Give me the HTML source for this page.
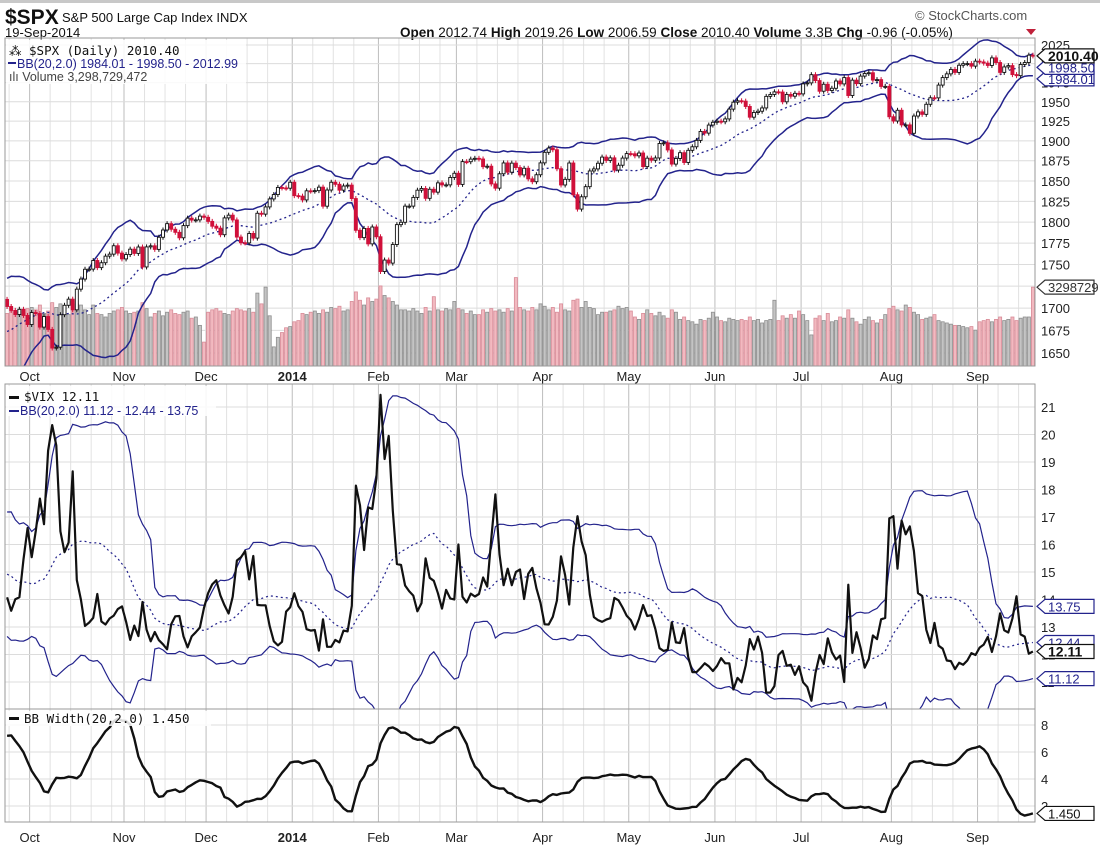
<!DOCTYPE html>
<html><head><meta charset="utf-8"><style>
body{margin:0;background:#fff;width:1100px;height:850px;overflow:hidden}
svg{display:block;font-family:"Liberation Sans",sans-serif}
</style></head><body>
<svg id="chart" width="1100" height="850" xmlns="http://www.w3.org/2000/svg">
<rect x="0" y="0" width="1100" height="3" fill="#c8c8c8"/>
<text x="5" y="24" font-size="21" font-weight="bold" fill="#111">$SPX</text>
<text x="62" y="22" font-size="13" fill="#111">S&amp;P 500 Large Cap Index  INDX</text>
<text x="5" y="37" font-size="13" fill="#111">19-Sep-2014</text>
<text x="915" y="20" font-size="13" fill="#555">© StockCharts.com</text>
<text x="400" y="37" font-size="13.5" fill="#111"><tspan font-weight="bold">Open</tspan> 2012.74 <tspan font-weight="bold">High</tspan> 2019.26 <tspan font-weight="bold">Low</tspan> 2006.59 <tspan font-weight="bold">Close</tspan> 2010.40 <tspan font-weight="bold">Volume</tspan> 3.3B <tspan font-weight="bold">Chg</tspan> -0.96 (-0.05%)</text>
<polygon points="1026,29 1036,29 1031,35" fill="#c0203a"/>
<g id="g"></g>
</svg>
<script>
const lookbackSpx=[1663.5,1656.8,1630.5,1634.96,1638.2,1632.97,1639.8,1653.1,1655.1,1655.2,1671.7,1683.99,1689.1,1683.4,1687.99,1697.6,1704.8,1725.5,1722.3,1709.9];
const spxClose=[1701.84,1697.42,1692.77,1698.67,1691.75,1681.55,
1695.00,1693.87,1678.66,1690.50,1676.12,1655.45,1656.40,1692.56,1703.20,1710.14,1698.06,1721.54,1733.15,1744.50,1744.66,1754.67,1746.38,1752.07,1759.77,1762.11,1771.95,1763.31,1756.54,
1761.64,1767.93,1762.97,1770.49,1747.15,1770.61,1771.89,1767.69,1782.00,1790.62,1798.18,1791.53,1787.87,1781.37,1795.85,1804.76,1802.48,1802.75,1807.23,1805.81,
1800.90,1795.15,1792.81,1785.03,1805.09,1808.37,1802.62,1782.22,1775.50,1775.32,1786.54,1781.00,1810.65,1809.60,1818.32,1827.99,1833.32,1842.02,1841.40,1841.07,1848.36,
1831.98,1831.37,1826.77,1837.88,1837.49,1838.13,1842.37,1819.20,1838.88,1848.38,1845.89,1838.70,1843.80,1844.86,1828.46,1790.29,1781.56,1792.50,1774.20,1794.19,1782.59,
1741.89,1755.20,1751.64,1773.43,1797.02,1799.84,1819.26,1819.26,1829.83,1838.63,1840.76,1828.75,1839.78,1836.25,1847.61,1845.12,1845.16,1854.29,1859.45,
1845.73,1873.91,1873.81,1877.03,1878.04,1877.17,1867.63,1868.20,1846.34,1841.13,1858.83,1872.25,1860.77,1872.01,1866.52,1857.44,1865.62,1852.56,1849.04,1857.62,1872.34,
1885.52,1890.90,1888.77,1865.09,1845.04,1851.96,1872.18,1833.08,1815.69,1830.61,1842.98,1862.31,1864.85,1871.89,1879.55,1875.39,1878.61,1863.40,1869.43,1878.33,1883.95,
1883.68,1881.14,1884.66,1867.72,1878.21,1875.63,1878.48,1896.65,1897.45,1888.53,1870.85,1877.86,1885.08,1872.83,1888.03,1892.49,1900.53,1911.91,1909.78,1920.03,1923.57,
1924.97,1924.24,1927.88,1940.46,1949.44,1951.27,1950.79,1943.89,1930.11,1936.16,1937.78,1941.99,1956.98,1959.48,1962.87,1962.61,1949.98,1959.53,1957.22,1960.96,1960.23,
1973.32,1974.62,1985.44,1977.65,1963.71,1972.83,1964.68,1967.57,1977.10,1973.28,1981.57,1958.12,1978.22,1973.63,1983.53,1987.01,1987.98,1978.34,1978.91,1969.95,1970.07,1930.67,
1925.15,1938.99,1920.21,1920.24,1909.57,1931.59,1936.92,1933.75,1946.72,1955.18,1955.06,1971.74,1981.60,1986.51,1992.37,1988.40,1997.92,2000.02,2000.12,1996.74,2003.37,
2002.28,2000.72,1997.65,2007.71,2001.54,1988.44,1995.69,1997.45,1985.54,1984.13,1998.98,2001.57,2011.36,2010.40];
const volumeM=[2200,2300,2250,2150,2250,2400,
2450,2350,2550,2200,2300,2650,2450,2600,2450,2150,2700,2600,2550,2350,2150,2550,2200,2150,2050,2200,2300,2350,2450,
2300,2200,2250,2300,2650,2400,2050,2200,2300,2100,2250,2350,2200,2150,2250,2300,2000,2050,1700,1000,
2250,2350,2400,2300,2200,2150,2300,2400,2350,2300,2400,2250,3050,2600,3300,2100,800,1200,1400,1600,1650,
1850,1900,2200,2150,2250,2300,2200,2350,2250,2450,2400,2500,2300,2350,2700,3100,2750,2550,2850,2700,2800,
3350,2950,2850,2700,2550,2350,2350,2300,2400,2300,2200,2450,2300,2900,2350,2300,2400,2350,2700,
2400,2350,2200,2300,2150,2150,2350,2250,2400,2300,2350,2250,2400,2300,3700,2450,2350,2300,2450,2350,2600,
2500,2350,2450,2250,2600,2350,2300,2750,2800,2450,2700,2450,2400,2150,2250,2250,2300,2350,2500,2400,2450,
2300,2050,1950,2200,2350,2200,2100,2250,2100,2000,2350,2250,1950,2050,1900,1850,1750,1950,1900,2000,2250,
2050,1900,1850,2000,1950,1900,1950,1900,2050,1900,1950,1800,1900,1950,2750,1900,2100,2000,2150,2000,2300,
2150,1900,1300,2000,2100,1900,2200,1850,1900,2050,2000,2350,2000,1850,1750,1950,2050,1900,1800,1950,2150,2400,
2500,2350,2300,2550,2450,2250,2150,1950,2000,2050,2150,1900,1850,1800,1750,1700,1700,1650,1600,1650,1500,
1850,1900,1950,1850,1950,2050,1900,1950,2050,1900,2000,2050,2050,3298.729];
const lookbackVix=[13.98,14.99,16.77,15.94,15.06,17.01,16.61,15.88,15.63,15.85,15.00,14.53,13.82,14.29,14.16,14.38,14.53,13.59,13.16,13.12];
const vixClose=[14.08,13.59,14.01,14.08,15.46,16.60,
15.54,16.50,17.67,16.74,19.41,20.34,19.60,16.48,15.72,16.07,18.66,14.71,14.00,13.04,13.16,13.33,14.20,13.20,13.09,13.31,13.41,13.65,13.75,
13.19,12.53,13.05,12.67,13.91,12.90,12.48,12.82,12.52,12.37,12.19,13.10,13.39,13.40,12.66,12.26,12.66,12.81,12.98,13.70,
14.23,14.55,14.70,14.15,13.79,13.49,14.10,15.42,15.54,15.76,14.73,15.58,13.80,13.79,13.79,13.03,12.48,12.33,12.46,13.56,13.72,
14.23,13.76,13.55,12.92,12.87,12.89,12.14,13.28,12.28,12.28,12.53,12.44,12.87,12.84,13.77,18.14,17.42,15.80,17.35,17.29,18.41,
21.44,19.11,19.95,17.23,15.29,15.26,14.51,14.30,14.14,13.57,13.87,15.50,14.79,14.68,14.23,13.67,14.35,14.04,14.00,
16.00,14.10,13.89,14.21,14.11,14.20,14.80,14.47,16.22,17.82,15.64,14.52,15.12,14.52,15.00,15.09,14.02,14.93,15.15,14.41,13.88,
13.10,13.09,13.37,13.96,15.57,14.89,13.82,15.89,17.03,16.11,15.61,14.18,13.36,13.25,13.19,13.27,13.32,14.06,13.97,13.71,13.41,
13.25,12.91,13.29,13.80,13.40,13.43,12.92,12.23,12.13,12.17,13.17,12.44,12.42,12.96,11.91,11.36,11.36,11.51,11.68,11.57,11.40,
11.58,11.87,11.68,11.68,10.73,11.15,10.99,11.60,12.56,12.18,12.65,12.06,10.61,10.62,10.85,11.98,12.13,11.59,11.63,11.26,11.57,
10.99,10.82,10.32,11.33,11.98,11.65,12.59,12.08,11.82,11.96,11.00,14.54,12.06,12.81,12.24,11.52,11.84,12.69,12.56,13.28,13.33,16.95,
17.03,15.12,16.87,16.37,16.66,15.77,14.23,14.13,12.90,12.42,13.15,12.32,12.21,11.78,11.76,11.47,11.70,11.63,11.78,12.05,11.98,
12.25,12.36,12.64,12.09,12.66,13.50,12.88,12.80,13.31,14.12,12.73,12.65,12.03,12.11];
const monthLabels=["Oct","Nov","Dec","2014","Feb","Mar","Apr","May","Jun","Jul","Aug","Sep"];
const monthStartIdx=[6,29,49,70,91,110,131,152,173,194,216,237];
const spxTicks=[2025,2000,1975,1950,1925,1900,1875,1850,1825,1800,1775,1750,1725,1700,1675,1650];
const vixTicks=[21,20,19,18,17,16,15,14,13,12,11];
const bbwTicks=[8,6,4,2];

const NS="http://www.w3.org/2000/svg";
const G=document.getElementById('g');
function el(tag,attrs,parent){const e=document.createElementNS(NS,tag);for(const k in attrs)e.setAttribute(k,attrs[k]);(parent||G).appendChild(e);return e;}
const L=5,R=1035,PITCH=(R-L)/spxClose.length;
const P1={t:38,b:366},P2={t:384,b:709},P3={t:709,b:822};
const xg=i=>L+i*PITCH;
const xc=i=>L+i*PITCH+PITCH/2;
const ySpx=p=>45+(Math.log(2025)-Math.log(p))*1504;
const yVix=v=>407+(21-v)*27.5;
const yBbw=v=>806-(v-2)*13.5;
const yVol=m=>P1.b-m/1000*23.9;

function bands(look,data){const all=look.concat(data),U=[],M=[],Lo=[];
 for(let i=0;i<data.length;i++){const j=i+look.length;const w=all.slice(j-19,j+1);
  const m=w.reduce((a,b)=>a+b,0)/w.length;const s=Math.sqrt(w.reduce((a,b)=>a+(b-m)*(b-m),0)/w.length);
  U.push(m+2*s);M.push(m);Lo.push(m-2*s);}
 return {U,M,Lo};}
const sb=bands(lookbackSpx,spxClose), vb=bands(lookbackVix,vixClose);
const bbw=sb.U.map((u,i)=>(u-sb.Lo[i])/sb.M[i]*100);

const defs=el('defs',{});
[['c1',P1],['c2',P2],['c3',P3]].forEach(([id,p])=>{const c=el('clipPath',{id:id},defs);el('rect',{x:L,y:p.t,width:R-L,height:p.b-p.t},c);});

function grid(p,ticks,yf,name){
 const g=el('g',{});
 
 
 for(let m=0;m<monthStartIdx.length;m++){const s=monthStartIdx[m],e=m+1<monthStartIdx.length?monthStartIdx[m+1]:spxClose.length;
  for(let k=s+5;k<e-2;k+=5){el('line',{x1:xg(k),x2:xg(k),y1:p.t,y2:p.b,stroke:'#e2e2e2','stroke-width':1},g);}}
 for(let k=1;k<6;k+=5){el('line',{x1:xg(k),x2:xg(k),y1:p.t,y2:p.b,stroke:'#e2e2e2'},g);}
 monthStartIdx.forEach(i=>el('line',{x1:xg(i),x2:xg(i),y1:p.t,y2:p.b,stroke:'#bdbdbd','stroke-width':1},g));
 ticks.forEach(v=>{const y=yf(v);if(y>p.t&&y<p.b)el('line',{x1:L,x2:R,y1:y,y2:y,stroke:'#dcdcdc'},g);});
}
grid(P1,spxTicks,ySpx,'price');grid(P2,vixTicks,yVix,'vix');grid(P3,bbwTicks,yBbw,'bbwidth');

const vg=el('g',{'clip-path':'url(#c1)'});


volumeM.forEach((v,i)=>{const prev=i?spxClose[i-1]:lookbackSpx[lookbackSpx.length-1];const dn=spxClose[i]<prev;
 const y=yVol(v);const r=el('rect',{x:xg(i)+0.5,y:y,width:PITCH-1,height:P1.b-y,fill:dn?'#f2b9c0':'#c4c4c4',stroke:dn?'#d88c98':'#8e8e8e','stroke-width':0.8},vg);
 
 });

function line(arr,xf,yf,attrs,clip,name){const d=arr.map((v,i)=>(i?'L':'M')+xf(i).toFixed(1)+','+yf(v).toFixed(1)).join('');
 const p=el('path',Object.assign({d:d,fill:'none','clip-path':'url(#'+clip+')'},attrs));
 
 return p;}
const NAVY='#23238c';
line(sb.U,xc,ySpx,{stroke:NAVY,'stroke-width':1.5},'c1','spx-bb-upper');
line(sb.M,xc,ySpx,{stroke:NAVY,'stroke-width':1.3,'stroke-dasharray':'2,3'},'c1','spx-bb-middle');
line(sb.Lo,xc,ySpx,{stroke:NAVY,'stroke-width':1.5},'c1','spx-bb-lower');

const cg=el('g',{'clip-path':'url(#c1)'});


spxClose.forEach((c,i)=>{const o=i?spxClose[i-1]:lookbackSpx[lookbackSpx.length-1];const up=c>=o;
 const yt=ySpx(Math.max(o,c)),yb=ySpx(Math.min(o,c));const x=xc(i);const col=up?'#111':'#d0103a';
 el('line',{x1:x,x2:x,y1:yt-2.5,y2:yb+2.5,stroke:col,'stroke-width':1},cg);
 const r=el('rect',{x:x-1.5,y:yt,width:3,height:Math.max(1,yb-yt),fill:up?'#fff':col,stroke:col,'stroke-width':0.9},cg);
 
 });

line(vb.U,xc,yVix,{stroke:NAVY,'stroke-width':1.2},'c2','vix-bb-upper');
line(vb.M,xc,yVix,{stroke:NAVY,'stroke-width':1.2,'stroke-dasharray':'2,3'},'c2','vix-bb-middle');
line(vb.Lo,xc,yVix,{stroke:NAVY,'stroke-width':1.2},'c2','vix-bb-lower');
line(vixClose,xc,yVix,{stroke:'#111','stroke-width':2.2,'stroke-linejoin':'round'},'c2','vix-line');
line(bbw,xc,yBbw,{stroke:'#111','stroke-width':2.4,'stroke-linejoin':'round'},'c3','bb-width-line');

[[P1,'price-panel'],[P2,'vix-panel'],[P3,'bbwidth-panel']].forEach(([p,n])=>{const r=el('rect',{x:L,y:p.t,width:R-L,height:p.b-p.t,fill:'none',stroke:'#9a9a9a'});
 
 });

function axis(ticks,yf,p,name){ticks.forEach(v=>{const y=yf(v);if(y<p.t-2||y>p.b+4)return;const t=el('text',{x:1041,y:y+5,'font-size':13,fill:'#222'});t.textContent=v;
 
 });}
axis(spxTicks,ySpx,P1,'price');axis(vixTicks,yVix,P2,'vix');axis(bbwTicks,yBbw,P3,'bbwidth');

[[377,'top'],[838,'bottom']].forEach(([y,pos])=>monthLabels.forEach((m,k)=>{const t=el('text',{x:xg(monthStartIdx[k]),y:y+4,'font-size':13,'text-anchor':'middle',fill:'#222','font-weight':m==='2014'?'bold':'normal'});t.textContent=m;
 
 }));

function tag(y,txt,col,bold,name){const g=el('g',{});
 
 
 el('polygon',{points:`1037,${y} 1045,${y-7} 1094,${y-7} 1094,${y+7} 1045,${y+7}`,fill:'#fff',stroke:col,'stroke-width':1.2},g);
 const t=el('text',{x:1048,y:y+5,'font-size':bold?14:13,'font-weight':bold?'bold':'normal',fill:col},g);t.textContent=txt;}
const last=spxClose.length-1;
let y1=ySpx(spxClose[last]),y2=Math.max(ySpx(sb.M[last]),y1+11.5),y3=Math.max(ySpx(sb.Lo[last]),y2+11.5);
tag(y3,sb.Lo[last].toFixed(2),NAVY,false,'spx-bb-lower-tag');
tag(y2,sb.M[last].toFixed(2),NAVY,false,'spx-bb-middle-tag');
tag(y1,spxClose[last].toFixed(2),'#111',true,'spx-close-tag');
tag(yVol(volumeM[last]),String(Math.round(volumeM[last]*1000)),'#333',false,'volume-tag');
tag(yVix(vb.U[last]),vb.U[last].toFixed(2),NAVY,false,'vix-bb-upper-tag');
tag(yVix(vb.M[last]),vb.M[last].toFixed(2),NAVY,false,'vix-bb-middle-tag');
tag(yVix(vb.Lo[last]),vb.Lo[last].toFixed(2),NAVY,false,'vix-bb-lower-tag');
tag(yVix(vixClose[last]),vixClose[last].toFixed(2),'#111',true,'vix-close-tag');
tag(yBbw(bbw[last]),bbw[last].toFixed(3),'#111',false,'bbwidth-tag');

function legend(x,y,txt,col,name,mono){const t=el('text',{x:x,y:y,'font-size':12.5,fill:col,'font-family':mono?'"DejaVu Sans Mono",monospace':'"Liberation Sans",sans-serif'});t.textContent=txt;
 
 }
el('rect',{x:6,y:40,width:240,height:44,fill:'#fff','fill-opacity':0.85});
legend(9,55,'⁂ $SPX (Daily) 2010.40','#111','legend-spx',true);
el('rect',{x:8,y:62,width:8,height:2,fill:NAVY});
legend(17,68,'BB(20,2.0) 1984.01 - 1998.50 - 2012.99',NAVY,'legend-spx-bb',false);
legend(9,81,'ılı Volume 3,298,729,472','#444','legend-volume',false);
el('rect',{x:6,y:386,width:210,height:30,fill:'#fff','fill-opacity':0.85});
el('rect',{x:9,y:396,width:10,height:3,fill:'#111'});
legend(24,401,'$VIX 12.11','#111','legend-vix',true);
el('rect',{x:9,y:410,width:10,height:2,fill:NAVY});
legend(20,415,'BB(20,2.0) 11.12 - 12.44 - 13.75',NAVY,'legend-vix-bb',false);
el('rect',{x:6,y:711,width:205,height:15,fill:'#fff','fill-opacity':0.85});
el('rect',{x:9,y:717,width:10,height:3,fill:'#111'});
legend(24,723,'BB Width(20,2.0) 1.450','#111','legend-bb-width',true);
</script>
</body></html>
